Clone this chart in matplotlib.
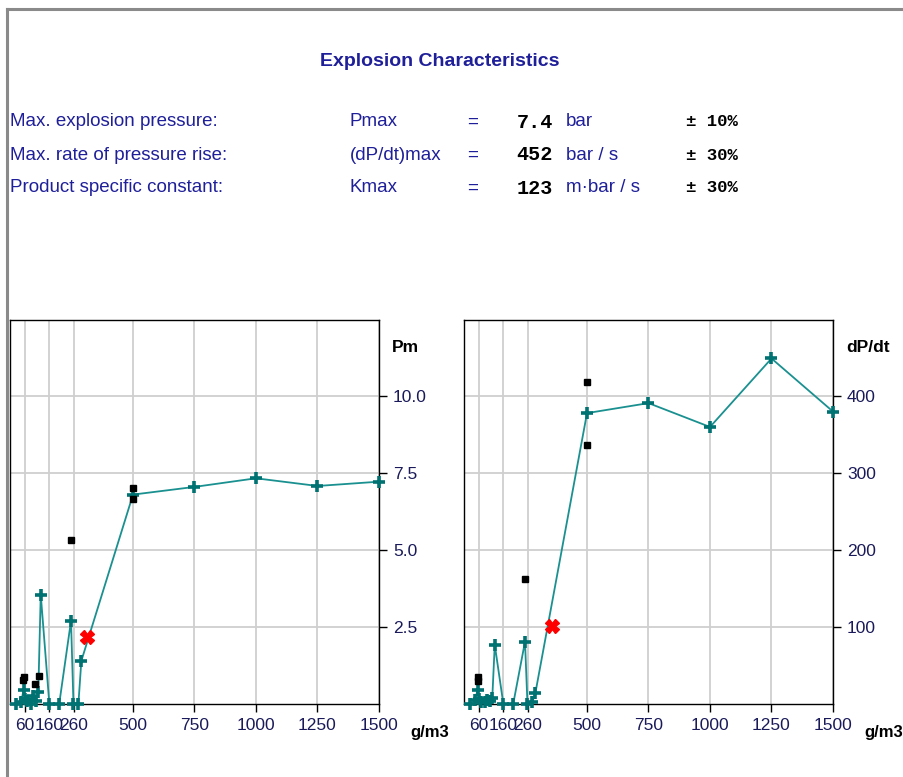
import matplotlib
matplotlib.use("Agg")
import matplotlib.pyplot as plt
from matplotlib.lines import Line2D

# concentration (g/m3) and mean values
conc = [25, 45, 55, 60, 70, 85, 95, 105, 115, 125, 160, 200, 248, 258, 278, 290,
        500, 750, 1000, 1250, 1500]
pm = [0, 0.05, 0.45, 0.15, 0.1, 0, 0.25, 0.1, 0.4, 3.55, 0, 0, 2.7, 0, 0, 1.4,
      6.8, 7.05, 7.33, 7.08, 7.22]
dpdt = [0, 5, 18, 6, 3, 2, 5, 4, 8, 77, 0, 0, 81, 0, 3, 14,
        378, 391, 360, 449, 380]

# single measurements (black squares)
pm_meas_x = [52, 57, 102, 119, 250, 500, 500]
pm_meas_y = [0.78, 0.89, 0.65, 0.9, 5.32, 7.0, 6.65]
dp_meas_x = [55, 57, 250, 500, 500]
dp_meas_y = [30, 35, 163, 418, 336]

# red marker
pm_red = (313, 2.19)
dp_red = (359, 102)

xticks = [60, 160, 260, 500, 750, 1000, 1250, 1500]
pm_ticks = [2.5, 5.0, 7.5, 10.0]
dp_ticks = [100, 200, 300, 400]

rows = [
    ("Max. explosion pressure:", "Pmax", "7.4", "bar", "± 10%"),
    ("Max. rate of pressure rise:", "(dP/dt)max", "452", "bar / s", "± 30%"),
    ("Product specific constant:", "Kmax", "123", "m·bar / s", "± 30%"),
]

narrow = ["Liberation Sans Narrow", "Liberation Sans", "DejaVu Sans"]
mono = ["Liberation Mono", "DejaVu Sans Mono"]
blue = "#1f1f9a"
teal_line = "#1a9090"
teal_mark = "#007272"

W, H = 904, 777
fig = plt.figure(figsize=(W / 100, H / 100), dpi=100)

def fx(px):
    return px / W

def fy(py):
    return 1 - py / H

# frame lines
fig.add_artist(Line2D([fx(7), fx(7)], [0, fy(9)], color="#8a8a8a", lw=2.2))
fig.add_artist(Line2D([fx(7), 1], [fy(9), fy(9)], color="#8a8a8a", lw=2.2))

fig.text(fx(440), fy(62), "Explosion Characteristics", family=narrow,
         weight="bold", fontsize=14, color=blue, ha="center", va="center")

for i, (lab, sym, val, unit, tol) in enumerate(rows):
    y = fy(122 + 33 * i)
    fig.text(fx(10), y, lab, family=narrow, fontsize=13.5, color=blue, va="center")
    fig.text(fx(350), y, sym, family=narrow, fontsize=13.5, color=blue, va="center")
    fig.text(fx(467), y, "=", family=narrow, fontsize=13.5, color=blue, va="center")
    fig.text(fx(553), y, val, family=mono, weight="bold", fontsize=14.5,
             color="black", va="center", ha="right")
    fig.text(fx(566), y, unit, family=narrow, fontsize=13.5, color=blue, va="center")
    fig.text(fx(686), y, tol, family=mono, weight="bold", fontsize=12.5,
             color="black", va="center")


def panel(left_px, right_px, yvals, mx, my, red, ymax, yticks, yfmt, ylab):
    ax = fig.add_axes([fx(left_px), fy(704), fx(right_px) - fx(left_px),
                       fy(320) - fy(704)])
    ax.set_xlim(0, 1500)
    ax.set_ylim(0, ymax)
    ax.set_xticks(xticks)
    ax.set_yticks(yticks)
    ax.set_yticklabels([yfmt.format(v) for v in yticks])
    ax.grid(True, color="#cfcfcf", lw=1.3)
    ax.set_axisbelow(True)
    for s in ax.spines.values():
        s.set_color("black")
        s.set_linewidth(1.0)
    ax.yaxis.tick_right()
    ax.tick_params(axis="both", direction="out", length=6, width=1.0,
                   labelsize=12.5, colors="black", pad=4)
    for lbl in ax.get_xticklabels() + ax.get_yticklabels():
        lbl.set_family(narrow)
        lbl.set_color("#1a1a5a")
    ax.plot(conc, yvals, color=teal_line, lw=1.3, zorder=3, clip_on=False)
    ax.plot(conc, yvals, ls="none", marker="+", ms=8.5, mew=2.6,
            color=teal_mark, zorder=4, clip_on=False)
    ax.plot(mx, my, ls="none", marker="s", ms=3.8, color="black", zorder=5)
    ax.plot([red[0]], [red[1]], ls="none", marker="X", ms=9.5, color="red",
            mec="red", zorder=6)
    fig.text(fx(right_px + 13), fy(347), ylab, family=narrow, weight="bold",
             fontsize=12.5, va="center")
    fig.text(fx(right_px + 31), fy(733), "g/m3", family=narrow, weight="bold",
             fontsize=12, va="center")
    return ax


panel(10, 379, pm, pm_meas_x, pm_meas_y, pm_red, 12.47, pm_ticks, "{:.1f}", "Pm")
panel(464, 833, dpdt, dp_meas_x, dp_meas_y, dp_red, 499, dp_ticks, "{:.0f}", "dP/dt")

fig.savefig("out.png", dpi=100)
